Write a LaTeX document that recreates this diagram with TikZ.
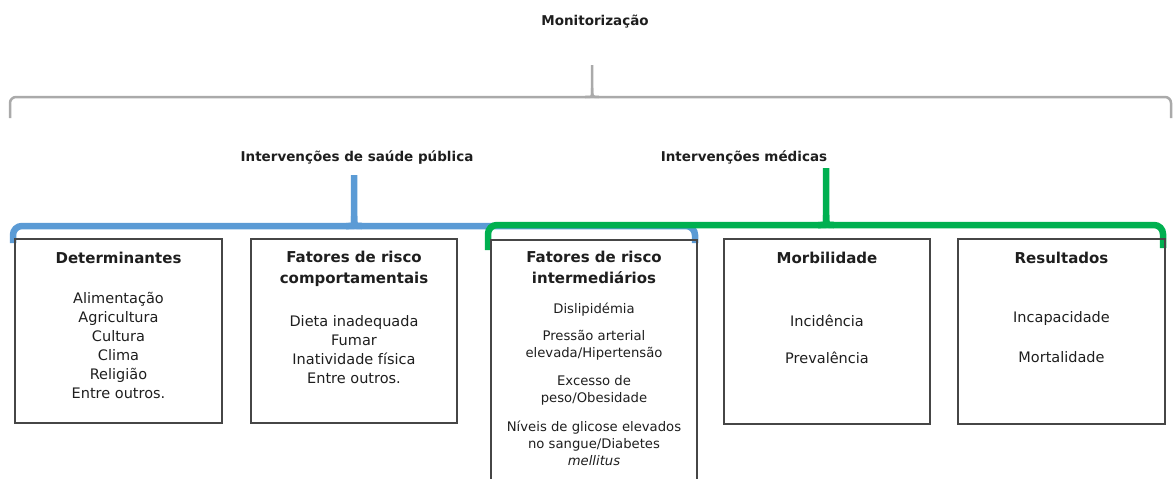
\documentclass[tikz,border=0pt]{standalone}
\usepackage{fontspec}
\setmainfont{DejaVu Sans}
\definecolor{saudeblue}{RGB}{91,155,213}
\definecolor{medgreen}{RGB}{0,176,80}
\definecolor{monigray}{RGB}{170,170,170}
\definecolor{boxgray}{RGB}{70,70,70}
\definecolor{textgray}{RGB}{30,30,30}
\tikzset{
  toplabel/.style={font=\fontsize{13.5}{16}\selectfont\bfseries, text=textgray},
  boxtitle/.style={font=\fontsize{15}{21}\selectfont\bfseries, align=center, text=textgray},
  boxtext/.style={font=\fontsize{14.5}{19}\selectfont, align=center, text=textgray},
  smalltext/.style={font=\fontsize{13.2}{16.8}\selectfont, align=center, text=textgray},
  boxline/.style={draw=boxgray, line width=1.3pt},
  graybrace/.style={draw=monigray, line width=2.5pt, rounded corners=6pt},
  bluebrace/.style={draw=saudeblue, line width=6.5pt, rounded corners=9pt},
  greenbrace/.style={draw=medgreen, line width=6.5pt, rounded corners=9pt}
}
\begin{document}
\begin{tikzpicture}[x=1pt,y=-1pt]
\useasboundingbox (0,0) rectangle (1173,479);
% top level
\node[toplabel] (monit) at (595,22) {Monitorização};
\draw[graybrace] (10,118) -- (10,97) -- (1171,97) -- (1171,118);
\draw[graybrace] (585,97) .. controls (592,97) .. (592,88) -- (592,65);
\draw[graybrace] (599,97) .. controls (592,97) .. (592,88);
% second level labels
\node[toplabel] (saude) at (357,158) {Intervenções de saúde pública};
\node[toplabel] (medica) at (744,157) {Intervenções médicas};
\draw[bluebrace] (13,243) -- (13,226) -- (695,226) -- (695,243);
\draw[bluebrace] (346,226) .. controls (354,226) .. (354,216) -- (354,175);
\draw[bluebrace] (362,226) .. controls (354,226) .. (354,216);
\draw[greenbrace] (488,250) -- (488,225) -- (1163,225) -- (1163,248);
\draw[greenbrace] (818,225) .. controls (826,225) .. (826,215) -- (826,168);
\draw[greenbrace] (834,225) .. controls (826,225) .. (826,215);
% boxes
\draw[boxline] (15,239) rectangle (222,423);
\draw[boxline] (251,239) rectangle (457,423);
\draw[boxline] (491,485) -- (491,240) -- (697,240) -- (697,485);
\draw[boxline] (724,239) rectangle (930,424);
\draw[boxline] (958,239) rectangle (1165,424);
% Determinantes
\node[boxtitle] (det) at (118.5,258) {Determinantes};
\node[boxtext] (detlist) at (118.5,345.5)
       {Alimentação\\Agricultura\\Cultura\\Clima\\Religião\\Entre outros.};
% comportamentais
\node[boxtitle] (comp) at (354,268.5) {Fatores de risco\\comportamentais};
\node[boxtext] (complist) at (354,349.5)
       {Dieta inadequada\\Fumar\\Inatividade física\\Entre outros.};
% intermediarios
\node[boxtitle] (inter) at (594,267.5) {Fatores de risco\\intermediários};
\node[smalltext] (dislip) at (594,310) {Dislipidémia};
\node[smalltext] (hiper) at (594,345.5) {Pressão arterial\\elevada/Hipertensão};
\node[smalltext] (obes) at (594,390.5) {Excesso de\\peso/Obesidade};
\node[smalltext] (diab) at (594,443.5)
       {Níveis de glicose elevados\\no sangue/Diabetes\\\textit{mellitus}};
% Morbilidade
\node[boxtitle] (morb) at (827,258) {Morbilidade};
\node[boxtext] (incid) at (827,321) {Incidência};
\node[boxtext] (preval) at (827,358) {Prevalência};
% Resultados
\node[boxtitle] (result) at (1061.5,258) {Resultados};
\node[boxtext] (incap) at (1061.5,318) {Incapacidade};
\node[boxtext] (mort) at (1061.5,357) {Mortalidade};
\end{tikzpicture}
\end{document}
